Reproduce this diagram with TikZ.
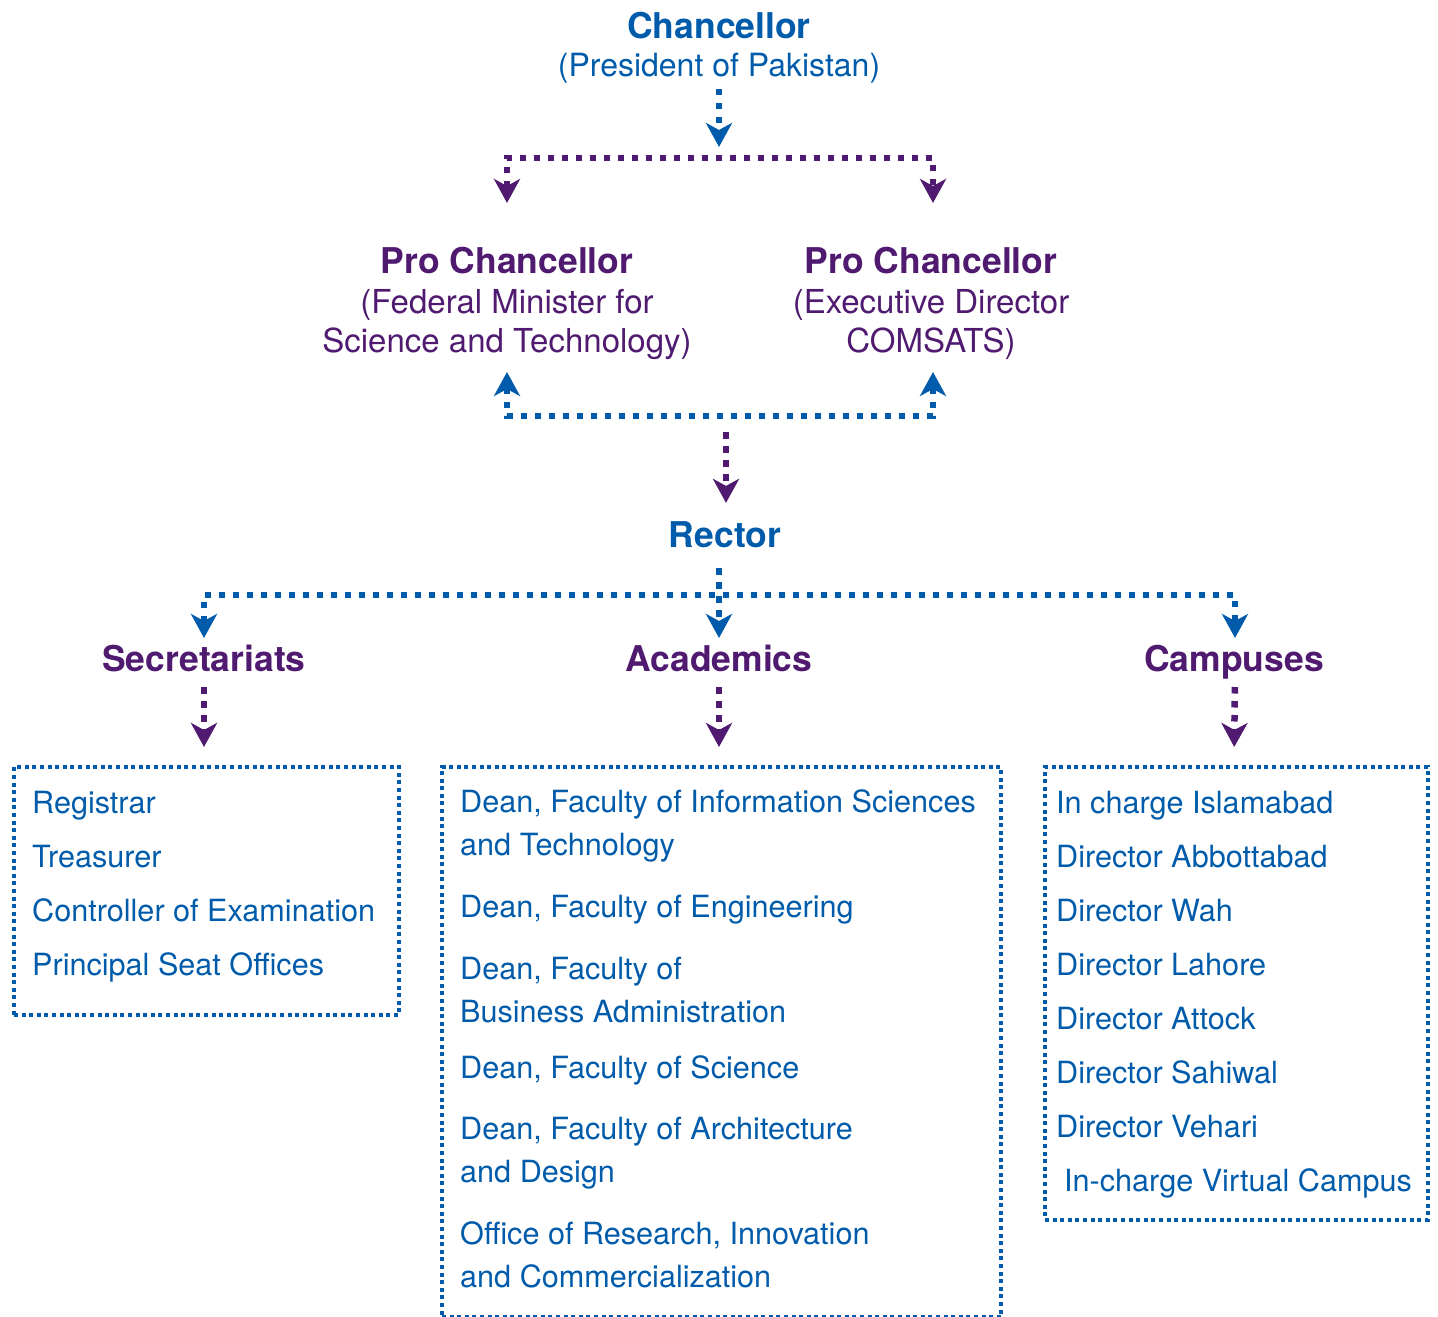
\documentclass[tikz,border=0pt]{standalone}
\usepackage{fontspec}
\setmainfont{TeX Gyre Heros}
\usetikzlibrary{arrows.meta,calc}
\definecolor{cblue}{HTML}{005BAA}
\definecolor{cpurp}{HTML}{4F1A6F}
\begin{document}
\begin{tikzpicture}[x=1pt,y=-1pt,
  hd/.style={font=\bfseries\fontsize{35.5}{40}\selectfont, inner sep=0pt, anchor=base},
  rg/.style={font=\fontsize{33}{39}\selectfont, inner sep=0pt, anchor=base, align=center},
  item/.style={font=\fontsize{30.6}{42.5}\selectfont, text=cblue, inner sep=0pt, anchor=base west, align=left},
  arr/.style={-{Stealth[length=24pt,width=26pt,inset=7pt]}},
  arrb/.style={{Stealth[length=24pt,width=26pt,inset=7pt]}-{Stealth[length=24pt,width=26pt,inset=7pt]}},
  conn/.style={line width=6.5pt, dash pattern=on 6.5pt off 7.5pt},
  bconn/.style={conn, color=cblue},
  pconn/.style={conn, color=cpurp},
  box/.style={draw=cblue, line width=4pt, dash pattern=on 4pt off 3.6pt, inner sep=0pt, anchor=north west}]
\useasboundingbox (0,0) rectangle (1438,1317);

% titles
\node[hd, text=cblue] (chanc) at (719,38) {Chancellor};
\node[rg, text=cblue, font=\fontsize{32}{39}\selectfont] (chsub) at (719,76) {(President of Pakistan)};

\node[hd, text=cpurp] (pcl) at (507,273) {Pro Chancellor};
\node[rg, text=cpurp] (pclsub) at (507,352) {(Federal Minister for\\Science and Technology)};
\node[hd, text=cpurp] (pcr) at (931,273) {Pro Chancellor};
\node[rg, text=cpurp] (pcrsub) at (931,352) {(Executive Director\\COMSATS)};

\node[hd, text=cblue] (rector) at (725,547) {Rector};

\node[hd, text=cpurp] (secr) at (204,671) {Secretariats};
\node[hd, text=cpurp] (acad) at (719,671) {Academics};
\node[hd, text=cpurp] (camp) at (1234,671) {Campuses};

% boxes
\node[box, minimum width=385pt, minimum height=248pt] (secbox) at (12,765) {};
\node[box, minimum width=559pt, minimum height=550pt] (acabox) at (440,765) {};
\node[box, minimum width=383pt, minimum height=453pt] (cambox) at (1043,765) {};

% box items
\node[item] (s1) at (32,813) {Registrar};
\node[item] (s2) at (32,867) {Treasurer};
\node[item] (s3) at (32,921) {Controller of Examination};
\node[item] (s4) at (32,975) {Principal Seat Offices};

\node[item] (a1) at (460,855) {Dean, Faculty of Information Sciences\\and Technology};
\node[item] (a2) at (460,917) {Dean, Faculty of Engineering};
\node[item] (a3) at (460,1022) {Dean, Faculty of\\Business Administration};
\node[item] (a4) at (460,1078) {Dean, Faculty of Science};
\node[item] (a5) at (460,1182) {Dean, Faculty of Architecture\\and Design};
\node[item] (a6) at (460,1287) {Office of Research, Innovation\\and Commercialization};

\node[item] (c1) at (1056,813) {In charge Islamabad};
\node[item] (c2) at (1056,867) {Director Abbottabad};
\node[item] (c3) at (1056,921) {Director Wah};
\node[item] (c4) at (1056,975) {Director Lahore};
\node[item] (c5) at (1056,1029) {Director Attock};
\node[item] (c6) at (1056,1083) {Director Sahiwal};
\node[item] (c7) at (1056,1137) {Director Vehari};
\node[item] (c8) at (1064,1191) {In-charge Virtual Campus};

% junction coordinates
\coordinate (j1) at (719,147);
\coordinate (tL) at (507,203);
\coordinate (tR) at (933,203);
\coordinate (uL) at (507,372);
\coordinate (uR) at (933,372);
\coordinate (bm) at (726,432);
\coordinate (rs) at (719,568);
\coordinate (dL) at (204,638);
\coordinate (dM) at (719,638);
\coordinate (dR) at (1235,638);

% connectors
\draw[bconn, arr] ([yshift=-6pt]chsub.south) -- (j1);
\draw[pconn, arrb] (tL) -- ++(0,-45) -| (tR);
\draw[bconn, arrb] (uL) -- ++(0,44) -| (uR);
\draw[pconn, arr, shorten >=18pt] (bm) -- (rector.north -| bm);
\draw[bconn, arr] (rs) -- (dM);
\draw[bconn, arrb] (dL) -- ++(0,-43) -| (dR);

\draw[pconn, arr, shorten <=16pt, shorten >=18pt] (secr.base) -- (secbox.north -| secr.base);
\draw[pconn, arr, shorten <=16pt, shorten >=18pt] (acad.base) -- (acabox.north -| acad.base);
\draw[pconn, arr, shorten <=16pt, shorten >=18pt] ([xshift=1pt]camp.base) -- (cambox.north -| camp.base);
\end{tikzpicture}
\end{document}
